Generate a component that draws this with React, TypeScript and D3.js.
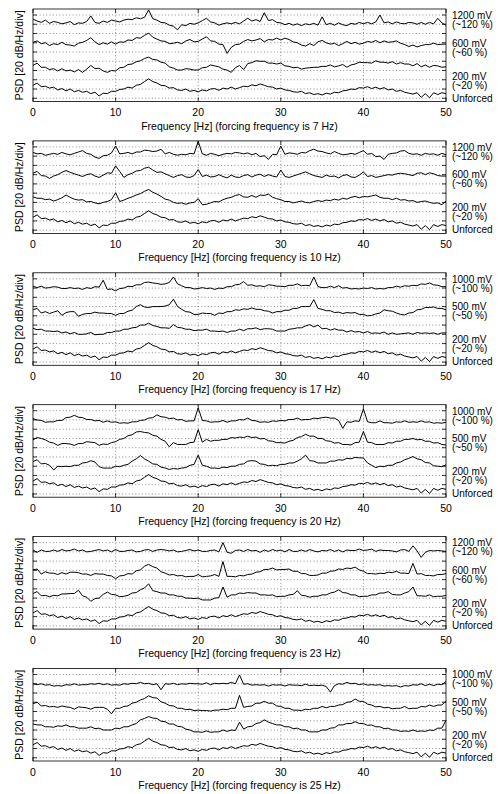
import React from 'react';
import * as d3 from 'd3';

// Frequency axis: 0 .. 50 Hz, one value every 0.5 Hz (101 points per trace)
const freqStep = 0.5;
const xTicks = [0, 10, 20, 30, 40, 50];
const forcingFreqs = [7, 10, 17, 20, 23, 25];
const amplitudeLabels = [
  [['1200 mV', '(~120 %)'], ['600 mV', '(~60 %)'], ['200 mV', '(~20 %)']],
  [['1200 mV', '(~120 %)'], ['600 mV', '(~60 %)'], ['200 mV', '(~20 %)']],
  [['1000 mV', '(~100 %)'], ['500 mV', '(~50 %)'], ['200 mV', '(~20 %)']],
  [['1000 mV', '(~100 %)'], ['500 mV', '(~50 %)'], ['200 mV', '(~20 %)']],
  [['1200 mV', '(~120 %)'], ['600 mV', '(~60 %)'], ['200 mV', '(~20 %)']],
  [['1000 mV', '(~100 %)'], ['500 mV', '(~50 %)'], ['200 mV', '(~20 %)']],
];
// PSD offsets in dB (20 dB per division); grid lines every 20 dB
const gridDb = [-13, -33, -53, -73, -93, -113, -133, -153, -173, -193];

const unforced = [
  -165, -160, -168, -167, -171, -169, -175, -172, -177, -173,
  -179, -176, -180, -178, -183, -180, -188, -182, -183, -178,
  -178, -174, -173, -169, -171, -165, -163, -157, -151, -157,
  -160, -165, -166, -171, -170, -175, -176, -173, -178, -176,
  -179, -175, -177, -173, -172, -176, -171, -173, -169, -173,
  -170, -167, -168, -164, -166, -162, -165, -168, -169, -173,
  -171, -175, -176, -179, -180, -178, -183, -181, -185, -183,
  -186, -182, -184, -180, -181, -177, -176, -173, -174, -170,
  -171, -168, -172, -169, -173, -170, -175, -173, -178, -176,
  -180, -182, -184, -181, -191, -183, -192, -181, -185, -181,
  -183,
];

// forcing 7 Hz
const f7_1200 = [
  -22, -26, -29, -24, -31, -27, -29, -32, -30, -27,
  -34, -30, -31, -27, -15, -29, -31, -26, -29, -24,
  -26, -28, -24, -22, -23, -19, -21, -18, -2, -21,
  -24, -29, -30, -35, -37, -45, -34, -36, -31, -33,
  -30, -25, -20, -28, -30, -35, -32, -30, -32, -29,
  -32, -26, -20, -26, -23, -27, -8, -25, -23, -29,
  -30, -34, -31, -35, -32, -36, -32, -34, -31, -35,
  -17, -34, -31, -35, -30, -34, -36, -31, -33, -29,
  -32, -29, -32, -28, -13, -30, -28, -32, -28, -31,
  -32, -29, -30, -33, -29, -33, -29, -32, -20, -30,
  -35,
];
const f7_600 = [
  -72, -69, -75, -73, -79, -75, -77, -72, -77, -78,
  -80, -74, -72, -68, -62, -71, -77, -73, -76, -71,
  -76, -71, -72, -67, -68, -62, -63, -57, -52, -61,
  -65, -69, -70, -75, -74, -72, -75, -69, -66, -71,
  -70, -65, -60, -69, -70, -76, -77, -96, -83, -77,
  -76, -70, -66, -69, -67, -64, -71, -66, -67, -63,
  -67, -63, -66, -71, -73, -78, -80, -75, -79, -71,
  -68, -73, -76, -74, -79, -75, -70, -75, -72, -76,
  -74, -70, -72, -68, -73, -69, -72, -71, -69, -74,
  -77, -81, -78, -82, -79, -77, -77, -74, -77, -76,
  -76,
];
const f7_200 = [
  -122, -117, -126, -126, -131, -129, -134, -129, -134, -132,
  -136, -131, -137, -130, -122, -129, -128, -134, -137, -133,
  -134, -127, -126, -120, -119, -114, -112, -107, -104, -109,
  -110, -115, -117, -125, -128, -132, -132, -129, -130, -132,
  -132, -127, -126, -121, -123, -125, -130, -132, -137, -127,
  -122, -131, -118, -116, -112, -113, -113, -117, -117, -119,
  -117, -123, -124, -127, -126, -130, -128, -127, -126, -126,
  -124, -124, -121, -125, -123, -120, -126, -121, -119, -115,
  -116, -116, -117, -112, -115, -115, -117, -114, -119, -116,
  -119, -119, -123, -118, -125, -121, -126, -122, -123, -126,
  -125,
];

// forcing 10 Hz
const f10_1200 = [
  -25, -28, -27, -31, -29, -27, -29, -25, -28, -30,
  -27, -24, -21, -27, -29, -35, -38, -32, -31, -26,
  -11, -28, -27, -25, -28, -24, -24, -20, -21, -23,
  -22, -18, -28, -25, -29, -31, -29, -30, -27, -28,
  -1, -28, -31, -27, -29, -32, -29, -27, -28, -25,
  -26, -28, -26, -30, -27, -34, -32, -40, -29, -30,
  -11, -29, -26, -27, -29, -25, -26, -21, -18, -22,
  -23, -26, -28, -23, -27, -30, -29, -27, -29, -25,
  -21, -29, -27, -34, -33, -40, -29, -27, -26, -22,
  -21, -27, -29, -28, -31, -27, -29, -28, -31, -27,
  -30,
];
const f10_600 = [
  -70, -66, -75, -76, -81, -76, -73, -68, -64, -68,
  -71, -74, -77, -73, -71, -76, -79, -74, -69, -70,
  -54, -66, -79, -73, -70, -65, -64, -59, -57, -63,
  -68, -67, -71, -75, -79, -75, -73, -78, -79, -75,
  -62, -77, -74, -78, -77, -73, -77, -80, -74, -78,
  -79, -75, -73, -78, -74, -72, -77, -73, -76, -78,
  -63, -77, -79, -76, -73, -70, -67, -71, -75, -77,
  -79, -74, -77, -76, -80, -75, -73, -78, -79, -74,
  -67, -77, -75, -79, -77, -75, -73, -74, -71, -70,
  -71, -73, -75, -70, -69, -73, -69, -71, -75, -76,
  -76,
];
const f10_200 = [
  -121, -124, -124, -127, -126, -130, -127, -123, -117, -122,
  -126, -128, -127, -132, -131, -134, -136, -133, -131, -127,
  -112, -131, -128, -124, -121, -117, -114, -109, -105, -111,
  -115, -120, -126, -128, -133, -135, -134, -137, -134, -133,
  -125, -138, -137, -134, -131, -132, -127, -124, -122, -118,
  -116, -121, -122, -118, -122, -117, -118, -115, -122, -125,
  -127, -131, -131, -134, -132, -130, -133, -134, -131, -129,
  -131, -128, -129, -126, -128, -124, -126, -122, -120, -123,
  -120, -121, -119, -117, -122, -124, -124, -127, -124, -128,
  -127, -130, -129, -133, -131, -130, -133, -135, -134, -138,
  -130,
];

// forcing 17 Hz
const f17_1000 = [
  -29, -32, -29, -33, -32, -30, -31, -34, -34, -32,
  -34, -33, -36, -32, -34, -30, -31, -16, -36, -35,
  -39, -34, -33, -29, -30, -26, -26, -21, -20, -22,
  -23, -25, -24, -21, -9, -24, -28, -32, -32, -35,
  -34, -32, -34, -33, -36, -33, -34, -30, -30, -26,
  -25, -19, -27, -26, -29, -28, -30, -26, -27, -29,
  -29, -30, -27, -27, -24, -28, -27, -28, -9, -30,
  -32, -32, -29, -32, -28, -33, -32, -35, -34, -35,
  -33, -34, -32, -35, -34, -35, -32, -32, -29, -31,
  -28, -29, -27, -28, -24, -25, -22, -26, -27, -30,
  -30,
];
const f17_500 = [
  -80, -77, -87, -84, -88, -85, -82, -92, -86, -84,
  -84, -94, -90, -88, -88, -85, -87, -87, -88, -88,
  -92, -88, -88, -83, -81, -73, -69, -74, -75, -73,
  -73, -73, -72, -69, -57, -73, -79, -84, -85, -90,
  -90, -87, -88, -88, -92, -87, -88, -84, -84, -80,
  -81, -78, -79, -76, -79, -79, -82, -83, -87, -84,
  -84, -81, -81, -77, -77, -73, -73, -73, -58, -77,
  -79, -82, -82, -86, -85, -88, -86, -87, -86, -90,
  -90, -93, -92, -89, -87, -80, -82, -83, -87, -90,
  -91, -87, -86, -80, -79, -75, -75, -74, -77, -77,
  -80,
];
const f17_200 = [
  -120, -123, -122, -126, -126, -127, -126, -130, -128, -132,
  -129, -133, -133, -132, -129, -134, -133, -133, -129, -129,
  -126, -126, -122, -122, -119, -118, -113, -113, -109, -114,
  -116, -119, -119, -120, -112, -118, -119, -122, -122, -125,
  -124, -124, -122, -126, -126, -127, -126, -129, -126, -126,
  -122, -125, -121, -121, -119, -123, -121, -121, -122, -126,
  -126, -126, -122, -121, -119, -119, -115, -112, -117, -113,
  -121, -120, -124, -121, -124, -124, -128, -125, -128, -127,
  -130, -127, -131, -130, -131, -128, -133, -130, -133, -132,
  -131, -130, -133, -129, -131, -130, -131, -130, -133, -130,
  -130,
];

// forcing 20 Hz
const f20_1000 = [
  -30, -33, -34, -38, -37, -37, -34, -34, -28, -27,
  -23, -27, -28, -32, -32, -35, -34, -38, -35, -38,
  -37, -40, -39, -40, -37, -37, -34, -33, -29, -28,
  -22, -26, -27, -30, -29, -33, -32, -36, -35, -35,
  -7, -34, -35, -38, -37, -37, -34, -38, -35, -35,
  -32, -33, -29, -34, -35, -38, -37, -38, -35, -36,
  -34, -35, -32, -32, -29, -33, -32, -32, -29, -30,
  -28, -27, -29, -29, -34, -51, -37, -38, -35, -36,
  -9, -37, -39, -39, -35, -39, -39, -40, -37, -38,
  -35, -38, -37, -38, -35, -38, -37, -40, -39, -40,
  -38,
];
const f20_500 = [
  -76, -71, -73, -76, -81, -83, -88, -84, -84, -85,
  -88, -84, -84, -80, -81, -82, -88, -85, -86, -82,
  -80, -75, -73, -67, -65, -59, -58, -60, -61, -66,
  -68, -75, -79, -91, -82, -86, -86, -86, -82, -81,
  -54, -81, -75, -79, -77, -77, -75, -75, -71, -72,
  -70, -71, -68, -71, -70, -74, -73, -78, -79, -82,
  -82, -83, -79, -77, -71, -69, -64, -68, -68, -73,
  -73, -78, -79, -83, -82, -86, -86, -87, -82, -81,
  -58, -81, -82, -86, -86, -86, -82, -83, -79, -79,
  -75, -75, -73, -76, -75, -79, -79, -83, -82, -86,
  -87,
];
const f20_200 = [
  -123, -119, -128, -127, -131, -141, -133, -134, -133, -134,
  -131, -131, -126, -125, -121, -124, -134, -137, -137, -137,
  -133, -134, -131, -129, -122, -117, -110, -117, -122, -128,
  -129, -135, -137, -140, -138, -139, -137, -136, -131, -129,
  -109, -131, -133, -137, -137, -138, -135, -136, -133, -133,
  -129, -128, -122, -121, -122, -128, -129, -132, -131, -132,
  -129, -129, -126, -126, -122, -117, -109, -121, -122, -126,
  -126, -126, -122, -122, -119, -120, -116, -117, -114, -115,
  -115, -126, -131, -136, -133, -134, -131, -131, -126, -124,
  -119, -116, -112, -117, -119, -125, -126, -132, -133, -134,
  -130,
];

// forcing 23 Hz
const f23_1200 = [
  -29, -34, -29, -32, -32, -29, -32, -28, -31, -30,
  -27, -31, -29, -33, -32, -30, -28, -31, -29, -33,
  -28, -32, -32, -30, -29, -33, -32, -29, -28, -32,
  -29, -28, -29, -31, -29, -33, -32, -30, -28, -31,
  -29, -32, -32, -30, -29, -33, -13, -34, -36, -30,
  -29, -32, -28, -31, -30, -34, -29, -32, -28, -31,
  -29, -33, -28, -32, -32, -29, -32, -28, -31, -33,
  -30, -31, -28, -32, -29, -33, -29, -30, -30, -27,
  -30, -29, -27, -32, -29, -30, -30, -31, -33, -29,
  -28, -32, -20, -31, -45, -34, -30, -31, -30, -31,
  -32,
];
const f23_600 = [
  -72, -70, -81, -76, -79, -79, -82, -78, -81, -77,
  -77, -78, -81, -81, -84, -80, -81, -81, -84, -85,
  -91, -85, -84, -80, -81, -74, -72, -64, -60, -65,
  -68, -76, -79, -83, -82, -85, -84, -87, -86, -86,
  -82, -87, -86, -85, -82, -86, -54, -86, -86, -87,
  -84, -85, -82, -81, -77, -76, -71, -71, -68, -72,
  -71, -71, -70, -75, -75, -80, -80, -84, -84, -83,
  -79, -79, -75, -74, -70, -71, -68, -69, -66, -72,
  -75, -80, -80, -81, -79, -80, -77, -78, -75, -79,
  -79, -80, -58, -81, -80, -84, -84, -85, -82, -82,
  -80,
];
const f23_200 = [
  -123, -119, -128, -127, -130, -127, -128, -124, -124, -123,
  -123, -116, -128, -131, -140, -134, -133, -125, -120, -125,
  -126, -130, -129, -127, -122, -121, -115, -111, -102, -117,
  -119, -122, -122, -126, -126, -129, -129, -133, -133, -134,
  -133, -137, -137, -137, -133, -132, -109, -131, -126, -126,
  -122, -123, -121, -122, -122, -126, -126, -127, -126, -130,
  -129, -129, -126, -125, -117, -127, -128, -131, -129, -129,
  -126, -126, -122, -120, -115, -121, -122, -126, -126, -130,
  -129, -129, -126, -126, -122, -122, -119, -125, -126, -126,
  -122, -119, -109, -128, -128, -129, -126, -130, -129, -129,
  -127,
];

// forcing 25 Hz
const f25_1000 = [
  -33, -35, -33, -36, -35, -38, -37, -38, -35, -36,
  -33, -36, -35, -35, -33, -34, -32, -35, -33, -36,
  -35, -36, -33, -34, -32, -33, -30, -33, -32, -35,
  -33, -46, -33, -34, -32, -35, -33, -34, -32, -33,
  -33, -34, -31, -35, -32, -33, -32, -33, -30, -33,
  -14, -34, -33, -36, -35, -36, -35, -38, -35, -36,
  -35, -38, -35, -36, -36, -37, -34, -37, -36, -37,
  -36, -39, -51, -37, -33, -34, -30, -33, -32, -35,
  -33, -36, -35, -36, -35, -38, -37, -38, -37, -40,
  -37, -38, -35, -36, -33, -37, -34, -37, -34, -35,
  -28,
];
const f25_500 = [
  -76, -73, -81, -80, -83, -82, -84, -81, -83, -84,
  -88, -83, -84, -85, -88, -84, -84, -84, -88, -98,
  -86, -86, -82, -81, -75, -73, -68, -65, -59, -63,
  -64, -72, -75, -80, -81, -86, -86, -89, -88, -91,
  -90, -91, -91, -92, -90, -90, -88, -89, -86, -86,
  -58, -84, -82, -81, -75, -75, -71, -75, -75, -81,
  -82, -86, -86, -90, -90, -91, -88, -89, -86, -86,
  -82, -85, -82, -82, -79, -78, -73, -72, -66, -71,
  -71, -77, -79, -83, -82, -85, -84, -87, -86, -86,
  -82, -87, -86, -86, -82, -83, -79, -82, -79, -79,
  -70,
];
const f25_200 = [
  -120, -122, -122, -126, -126, -127, -124, -125, -122, -126,
  -126, -129, -129, -129, -126, -130, -129, -133, -133, -133,
  -129, -130, -126, -126, -122, -119, -111, -108, -104, -107,
  -108, -114, -115, -120, -120, -125, -126, -131, -133, -137,
  -137, -138, -135, -138, -137, -137, -133, -136, -133, -134,
  -116, -131, -126, -125, -119, -117, -111, -116, -119, -122,
  -122, -126, -126, -130, -129, -133, -133, -137, -137, -137,
  -133, -133, -129, -128, -122, -122, -119, -119, -115, -119,
  -119, -123, -122, -126, -126, -130, -129, -133, -133, -136,
  -135, -136, -133, -136, -135, -136, -133, -134, -129, -129,
  -112,
];

const panelTraces = [
  [f7_1200, f7_600, f7_200, unforced],
  [f10_1200, f10_600, f10_200, unforced],
  [f17_1000, f17_500, f17_200, unforced],
  [f20_1000, f20_500, f20_200, unforced],
  [f23_1200, f23_600, f23_200, unforced],
  [f25_1000, f25_500, f25_200, unforced],
];

const W = 504;
const H = 794;
const PLOT_L = 33;
const PLOT_R = 446;
const TOP0 = 9;
const PANEL_STEP = 131.9;
const PANEL_H = 92.5;
const FONT = 'Liberation Sans, Arial, Helvetica, sans-serif';

const x = d3.scaleLinear().domain([0, 50]).range([PLOT_L, PLOT_R]);

function Panel({ index }: { index: number }) {
  const top = TOP0 + index * PANEL_STEP;
  const bottom = top + PANEL_H;
  const y = d3.scaleLinear().domain([-200, 0]).range([bottom, top]);
  const line = d3
    .line<number>()
    .x((_, i) => x(i * freqStep))
    .y((d) => y(d));
  const labels = amplitudeLabels[index];
  const tickLen = 4;
  const labelRel = [9.8, 18.8, 37.5, 46.5, 70.5, 79.5, 92.5];
  const rightTexts = [
    labels[0][0], labels[0][1], labels[1][0], labels[1][1], labels[2][0], labels[2][1], 'Unforced',
  ];
  return (
    <g>
      {gridDb.map((g) => (
        <line key={'h' + g} x1={PLOT_L} x2={PLOT_R} y1={y(g)} y2={y(g)}
          stroke="#444" strokeWidth={0.6} strokeDasharray="1,2.3" />
      ))}
      {xTicks.slice(1, -1).map((t) => (
        <line key={'v' + t} x1={x(t)} x2={x(t)} y1={top} y2={bottom}
          stroke="#444" strokeWidth={0.6} strokeDasharray="1,2.3" />
      ))}
      {panelTraces[index].map((tr, k) => (
        <path key={'t' + k} d={line(tr) || ''} fill="none" stroke="#000" strokeWidth={1} strokeLinejoin="round" />
      ))}
      <rect x={PLOT_L} y={top} width={PLOT_R - PLOT_L} height={PANEL_H} fill="none" stroke="#000" strokeWidth={0.8} />
      {gridDb.map((g) => (
        <g key={'yt' + g}>
          <line x1={PLOT_L} x2={PLOT_L + tickLen} y1={y(g)} y2={y(g)} stroke="#000" strokeWidth={0.8} />
          <line x1={PLOT_R} x2={PLOT_R - tickLen} y1={y(g)} y2={y(g)} stroke="#000" strokeWidth={0.8} />
        </g>
      ))}
      {xTicks.map((t) => (
        <g key={'xt' + t}>
          <line x1={x(t)} x2={x(t)} y1={bottom} y2={bottom - tickLen} stroke="#000" strokeWidth={0.8} />
          <line x1={x(t)} x2={x(t)} y1={top} y2={top + tickLen} stroke="#000" strokeWidth={0.8} />
          <text x={x(t)} y={bottom + 14.5} textAnchor="middle" fontSize={10.5} fontFamily={FONT}>{t}</text>
        </g>
      ))}
      <text x={(PLOT_L + PLOT_R) / 2} y={bottom + 28} textAnchor="middle" fontSize={10.5} fontFamily={FONT}>
        {`Frequency [Hz] (forcing frequency is ${forcingFreqs[index]} Hz)`}
      </text>
      <text transform={`translate(22.5,${(top + bottom) / 2}) rotate(-90)`} textAnchor="middle" fontSize={10.5} fontFamily={FONT}>
        PSD [20 dB/Hz/div]
      </text>
      {rightTexts.map((s, k) => (
        <text key={'r' + k} x={452} y={top + labelRel[k]} fontSize={10} fontFamily={FONT}>{s}</text>
      ))}
    </g>
  );
}

export default function App() {
  return (
    <svg width={W} height={H} viewBox={`0 0 ${W} ${H}`}
      style={{ position: 'absolute', left: 0, top: 0, background: '#fff' }}>
      <rect x={0} y={0} width={W} height={H} fill="#fff" />
      {forcingFreqs.map((_, i) => (
        <Panel key={i} index={i} />
      ))}
    </svg>
  );
}
